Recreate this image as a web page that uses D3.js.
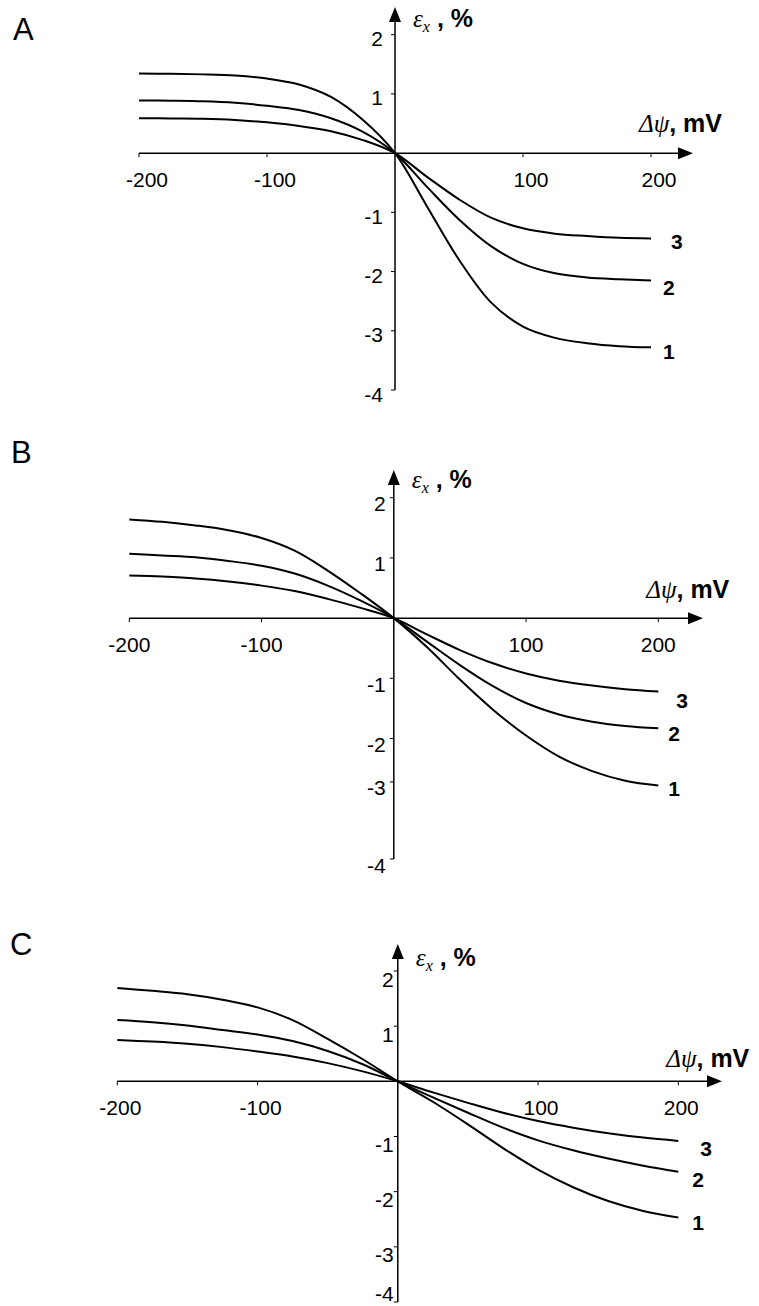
<!DOCTYPE html>
<html>
<head>
<meta charset="utf-8">
<script src="https://cdn.jsdelivr.net/npm/d3@7"></script>
<style>
  html, body { margin: 0; padding: 0; background: #fff; }
  svg { display: block; }
  text { font-family: "Liberation Sans", Arial, sans-serif; fill: #000; }
</style>
</head>
<body>
<svg id="chart"></svg>
<script>
// Δψ grid (mV) shared by all curves
const potentials = [-200, -175, -150, -125, -100, -75, -50, -25, 0, 25, 50, 75, 100, 125, 150, 175, 200];

// strain εx (%), curves 1..3
const panelA1 = [1.345, 1.34, 1.33, 1.31, 1.26, 1.16, 0.95, 0.56, 0, -0.9, -1.8, -2.52, -2.93, -3.12, -3.21, -3.26, -3.28];
const panelA2 = [0.89, 0.885, 0.875, 0.85, 0.80, 0.73, 0.59, 0.36, 0, -0.57, -1.12, -1.57, -1.87, -2.03, -2.10, -2.13, -2.15];
const panelA3 = [0.59, 0.585, 0.58, 0.56, 0.52, 0.46, 0.37, 0.22, 0, -0.40, -0.78, -1.09, -1.27, -1.36, -1.40, -1.43, -1.44];

const panelB1 = [1.64, 1.60, 1.54, 1.46, 1.33, 1.12, 0.79, 0.41, 0, -0.48, -1.02, -1.52, -1.95, -2.30, -2.54, -2.70, -2.78];
const panelB2 = [1.07, 1.04, 1.01, 0.95, 0.87, 0.74, 0.54, 0.29, 0, -0.39, -0.78, -1.13, -1.41, -1.60, -1.72, -1.79, -1.83];
const panelB3 = [0.71, 0.69, 0.66, 0.61, 0.54, 0.45, 0.32, 0.17, 0, -0.27, -0.53, -0.75, -0.92, -1.04, -1.12, -1.18, -1.22];

const panelC1 = [1.69, 1.64, 1.58, 1.48, 1.34, 1.11, 0.77, 0.40, 0, -0.37, -0.78, -1.21, -1.60, -1.92, -2.17, -2.35, -2.47];
const panelC2 = [1.11, 1.07, 1.01, 0.93, 0.85, 0.73, 0.55, 0.31, 0, -0.29, -0.57, -0.84, -1.07, -1.25, -1.40, -1.53, -1.64];
const panelC3 = [0.75, 0.72, 0.68, 0.62, 0.54, 0.45, 0.33, 0.18, 0, -0.20, -0.39, -0.57, -0.72, -0.84, -0.94, -1.02, -1.08];

const curveNames = ['1', '2', '3'];

// tick values and labels
const xTicks = [-200, -100, 100, 200];
const yTickLabels = ['2', '1', '-1', '-2', '-3', '-4'];
const yTicksRegular = [2, 1, -1, -2, -3, -4];
const yTicksB = [2, 1, -1, -2, -2.72, -4]; // the "-3" tick sits off-grid in panel B

const panelNames = ['A', 'B', 'C'];

// layout, in page pixels
const panels = [
  { name: panelNames[0], series: [panelA1, panelA2, panelA3], yTicks: yTicksRegular,
    xRange: [139, 651], yRange: [390, 34.7], yTip: 7, xTip: 693,
    letter: [13, 40], xLabDx: 8, yLabGap: 12, yLabDy: 4, dPsiDy: -21, epsDy: -8,
    tagDx: [12, 12, 20], tagDy: [4, 7, 3] },
  { name: panelNames[1], series: [panelB1, panelB2, panelB3], yTicks: yTicksB,
    xRange: [129.3, 658.3], yRange: [859, 497.7], yTip: 470, xTip: 703,
    letter: [11, 463], xLabDx: 0, yLabGap: 8, yLabDy: 6, dPsiDy: -20, epsDy: -10,
    tagDx: [10, 10, 18], tagDy: [3, 5, 9] },
  { name: panelNames[2], series: [panelC1, panelC2, panelC3], yTicks: yTicksRegular,
    xRange: [117.3, 678.3], yRange: [1302, 971], yTip: 944, xTip: 722,
    letter: [10, 955], xLabDx: 3, yLabGap: 4, yLabDy: 8, dPsiDy: -14, epsDy: -5,
    tagDx: [14, 14, 22], tagDy: [5, 8, 8] }
];

const width = 759, height = 1306;
const svg = d3.select('#chart').attr('width', width).attr('height', height);

panels.forEach(p => {
  const x = d3.scaleLinear().domain([-200, 200]).range(p.xRange);
  const y = d3.scaleLinear().domain([-4, 2]).range(p.yRange);
  const g = svg.append('g');
  const x0 = x(0), y0 = y(0);

  // panel letter
  g.append('text')
    .attr('x', p.letter[0]).attr('y', p.letter[1])
    .style('font-size', '31px')
    .text(p.name);

  // y axis line + arrow
  g.append('line')
    .attr('x1', x0).attr('x2', x0)
    .attr('y1', y(-4)).attr('y2', p.yTip + 10)
    .attr('stroke', '#000').attr('stroke-width', 1.5);
  g.append('path')
    .attr('d', `M${x0},${p.yTip} L${x0 - 6},${p.yTip + 15} L${x0 + 6},${p.yTip + 15} Z`)
    .attr('fill', '#000');

  // x axis line + arrow
  g.append('line')
    .attr('x1', x(-200)).attr('x2', p.xTip - 10)
    .attr('y1', y0).attr('y2', y0)
    .attr('stroke', '#000').attr('stroke-width', 1.5);
  g.append('path')
    .attr('d', `M${p.xTip},${y0} L${p.xTip - 15},${y0 - 6} L${p.xTip - 15},${y0 + 6} Z`)
    .attr('fill', '#000');

  // x ticks and labels
  xTicks.forEach(t => {
    g.append('line')
      .attr('x1', x(t)).attr('x2', x(t))
      .attr('y1', y0).attr('y2', y0 + 4)
      .attr('stroke', '#000').attr('stroke-width', 1);
    g.append('text')
      .attr('x', x(t) + p.xLabDx).attr('y', y0 + 34)
      .attr('text-anchor', 'middle')
      .style('font-size', '21px')
      .text(t);
  });

  // y ticks and labels (keep the lowest one inside the page)
  p.yTicks.forEach((t, i) => {
    g.append('line')
      .attr('x1', x0 - 4).attr('x2', x0)
      .attr('y1', y(t)).attr('y2', y(t))
      .attr('stroke', '#000').attr('stroke-width', 1);
    g.append('text')
      .attr('x', x0 - p.yLabGap).attr('y', Math.min(y(t) + p.yLabDy, height - 13))
      .attr('text-anchor', 'end')
      .attr('dominant-baseline', 'central')
      .style('font-size', '21px')
      .text(yTickLabels[i]);
  });

  // axis titles
  const dPsi = g.append('text')
    .attr('x', x(200) + 71).attr('y', y0 + p.dPsiDy)
    .attr('text-anchor', 'end')
    .style('font-size', '25px');
  dPsi.append('tspan').attr('font-style', 'italic').attr('font-family', '"Liberation Serif", serif').text('Δψ');
  dPsi.append('tspan').attr('font-weight', 'bold').text(', mV');

  const eps = g.append('text')
    .attr('x', x0 + 18).attr('y', y(2) + p.epsDy)
    .style('font-size', '25px');
  eps.append('tspan').attr('font-style', 'italic').attr('font-family', '"Liberation Serif", serif').text('ε');
  eps.append('tspan').attr('font-style', 'italic').attr('font-family', '"Liberation Serif", serif')
    .attr('dy', 5).style('font-size', '16px').text('x');
  eps.append('tspan').attr('font-weight', 'bold').attr('dy', -5).text(' , %');

  // curves
  const line = d3.line()
    .x((d, i) => x(potentials[i]))
    .y(d => y(d))
    .curve(d3.curveCatmullRom.alpha(0.5));

  p.series.forEach((s, k) => {
    g.append('path')
      .datum(s)
      .attr('d', line)
      .attr('fill', 'none')
      .attr('stroke', '#000')
      .attr('stroke-width', 2);
    g.append('text')
      .attr('x', x(200) + p.tagDx[k]).attr('y', y(s[s.length - 1]) + p.tagDy[k])
      .attr('dominant-baseline', 'central')
      .style('font-size', '21px')
      .style('font-weight', 'bold')
      .text(curveNames[k]);
  });
});
</script>
</body>
</html>
